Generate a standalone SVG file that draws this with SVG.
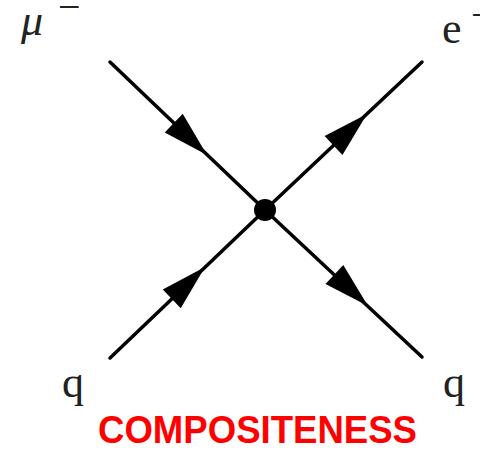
<svg xmlns="http://www.w3.org/2000/svg" width="480" height="450" viewBox="0 0 480 450">
  <style>
    .ln { stroke: #000; stroke-width: 3.5; fill: none; stroke-linecap: round; }
    .lbl { font-family: "Liberation Serif", "DejaVu Serif", serif; font-size: 44px; fill: #222; }
    .sup { font-family: "Liberation Serif", "DejaVu Serif", serif; font-size: 40px; fill: #222; }
    .title { font-family: "Liberation Sans", Arial, sans-serif; font-weight: bold; font-size: 39px; fill: #ff0000; }
  </style>
  <defs>
    <path id="ah" d="M0,0 L-46,-13 L-46,13 Z" fill="#000"/>
  </defs>
  <rect width="480" height="450" fill="#fff"/>
  <g id="connectors">
    <line class="ln" x1="110" y1="62" x2="265" y2="210"/>
    <line class="ln" x1="265" y1="210" x2="422" y2="62"/>
    <line class="ln" x1="110" y1="358" x2="265" y2="210"/>
    <line class="ln" x1="265" y1="210" x2="422" y2="357"/>
    <use href="#ah" transform="translate(207,155) rotate(43.7)"/>
    <use href="#ah" transform="translate(367,114) rotate(-43.3)"/>
    <use href="#ah" transform="translate(205,267) rotate(-43.7)"/>
    <use href="#ah" transform="translate(368,306) rotate(43.1)"/>
  </g>
  <g id="vertex">
    <circle cx="265" cy="210" r="11" fill="#000"/>
  </g>
  <g id="mu">
    <text class="lbl" x="21" y="35" font-style="italic" font-size="47">μ</text>
    <text class="sup" x="58" y="20">−</text>
  </g>
  <g id="electron">
    <text class="lbl" x="442" y="43">e</text>
    <text class="sup" x="471" y="28">−</text>
  </g>
  <g id="q-in">
    <text class="lbl" x="62" y="397">q</text>
  </g>
  <g id="q-out">
    <text class="lbl" x="443" y="397">q</text>
  </g>
  <g id="title">
    <text class="title" x="98" y="443" textLength="319" lengthAdjust="spacingAndGlyphs">COMPOSITENESS</text>
  </g>
</svg>
